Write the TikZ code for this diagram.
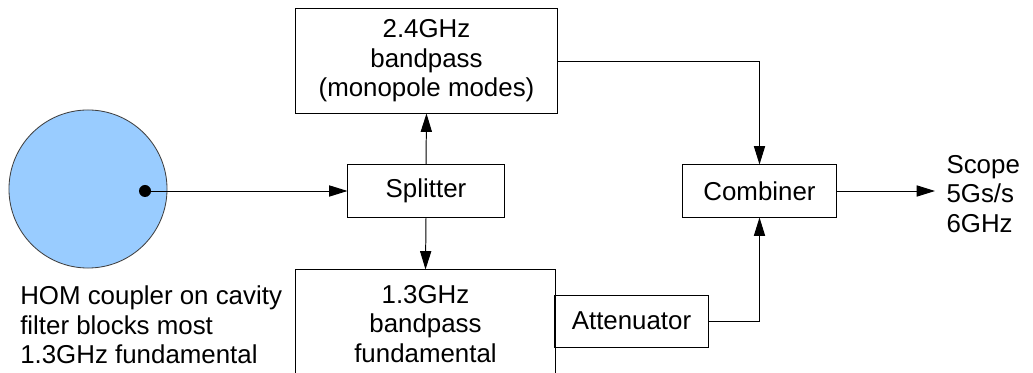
\documentclass[tikz,border=0pt]{standalone}
\usepackage{fontspec}
\setmainfont{Liberation Sans}
\usetikzlibrary{arrows.meta}
\definecolor{cavblue}{RGB}{153,204,255}
\begin{document}
\begin{tikzpicture}[x=0.025cm, y=-0.025cm,
  every node/.style={font=\fontsize{18.4}{21}\selectfont, align=center},
  blockbox/.style={draw, line width=0.7pt, inner sep=0pt},
  sig/.style={line width=0.7pt, -{Triangle[length=4.6mm, width=2.8mm]}}]
\clip (0,0) rectangle (1033,373);
% cavity and coupler probe
\node[circle, draw=black!75, line width=0.6pt, fill=cavblue, minimum size=3.95cm, inner sep=0pt] (cavity) at (88,189) {};
\node[circle, fill=black, minimum size=0.3cm, inner sep=0pt] (probe) at (145,191) {};
\node[align=left, anchor=west, inner sep=0pt] (homtext) at (20,325) {HOM coupler on cavity\\filter blocks most\\1.3GHz fundamental};
% signal chain blocks
\node[blockbox, minimum width=3.9cm, minimum height=1.3cm] (splitter) at (426,191) {Splitter};
\node[blockbox, minimum width=6.525cm, minimum height=2.6cm] (bp24) at (426.5,61) {2.4GHz\\bandpass\\(monopole modes)};
\node[blockbox, minimum width=6.475cm, minimum height=2.7cm] (bp13) at (425.5,324) {1.3GHz\\bandpass\\fundamental};
\node[blockbox, minimum width=3.825cm, minimum height=1.3cm] (atten) at (631.5,321) {Attenuator};
\node[blockbox, minimum width=3.825cm, minimum height=1.3cm] (combiner) at (759.5,191) {Combiner};
\node[align=left, anchor=west, inner xsep=8pt, inner ysep=0pt] (scope) at (935,194) {Scope\\5Gs/s\\6GHz};
% connections
\draw[sig] (probe.center) -- (splitter.west);
\draw[sig] (splitter.north) -- (bp24.south);
\draw[sig] (splitter.south) -- (bp13.north);
\draw[sig] (bp24.east) -| (combiner.north);
\draw[sig] (atten.east) -| (combiner.south);
\draw[sig] (combiner.east) -- (combiner.east -| scope.west);
\end{tikzpicture}
\end{document}
